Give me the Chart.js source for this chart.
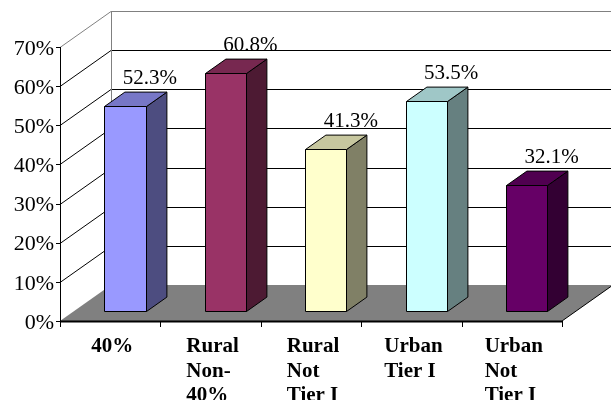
<!DOCTYPE html>
<html>
<head>
<meta charset="utf-8">
<script src="https://cdn.jsdelivr.net/npm/chart.js@4/dist/chart.umd.min.js"></script>
<style>
  html, body { margin: 0; padding: 0; background: #fff; }
  #wrap { width: 611px; height: 400px; }
</style>
</head>
<body>
<div id="wrap"><canvas id="grafico" width="611" height="400"></canvas></div>
<script>
// dados
const categorias = [["40%"], ["Rural", "Non-", "40%"], ["Rural", "Not", "Tier I"], ["Urban", "Tier I"], ["Urban", "Not", "Tier I"]];
const valores = [52.3, 60.8, 41.3, 53.5, 32.1];
const rotulos = ["52.3%", "60.8%", "41.3%", "53.5%", "32.1%"];
const ticksY = [0, 10, 20, 30, 40, 50, 60, 70];

// cores das barras (frente)
const cores = ["#9999FF", "#993366", "#FFFFCC", "#CCFFFF", "#660066"];

const fonte = '"Liberation Serif", "Times New Roman", serif';
// profundidade do "3D"
const PROF = { x: 51, y: -36 };
const FRENTE = 0.29, FUNDO = 0.69;

function escurecer(hex, f){
    const n = parseInt(hex.slice(1), 16);
    const r = Math.round(((n >> 16) & 255) * f);
    const g = Math.round(((n >> 8) & 255) * f);
    const b = Math.round((n & 255) * f);
    return `rgb(${r},${g},${b})`;
}

function linha(ctx, x1, y1, x2, y2, cor, lw){
    ctx.beginPath();
    ctx.strokeStyle = cor;
    ctx.lineWidth = lw || 1;
    ctx.moveTo(x1, y1);
    ctx.lineTo(x2, y2);
    ctx.stroke();
}

// paredes, chão, eixos e rótulos
const fundo3d = {
    id: "fundo3d",
    beforeDatasetsDraw(chart){
        const ctx = chart.ctx;
        const a = chart.chartArea;
        const ys = chart.scales.y, xs = chart.scales.x;
        ctx.save();

        // grade no fundo e na parede lateral
        ticksY.forEach(v => {
            const y = Math.round(ys.getPixelForValue(v)) + 0.5;
            const cor = v === ticksY[ticksY.length-1] ? "#808080" : "#000";
            if(v > 0){
                linha(ctx, a.left + PROF.x, y + PROF.y, a.right + PROF.x + 5, y + PROF.y, cor);
                linha(ctx, a.left, y, a.left + PROF.x, y + PROF.y, cor);
            }
        });
        linha(ctx, a.left + PROF.x + 0.5, a.top + PROF.y, a.left + PROF.x + 0.5, a.bottom + PROF.y, "#808080");

        // chão
        ctx.beginPath();
        ctx.moveTo(a.left, a.bottom);
        ctx.lineTo(a.right, a.bottom);
        ctx.lineTo(a.right + PROF.x, a.bottom + PROF.y);
        ctx.lineTo(a.left + PROF.x, a.bottom + PROF.y);
        ctx.closePath();
        ctx.fillStyle = "#808080";
        ctx.fill();
        linha(ctx, a.right, a.bottom, a.right + PROF.x, a.bottom + PROF.y, "#000");

        // eixos
        linha(ctx, a.left + 0.5, a.top, a.left + 0.5, a.bottom, "#000");
        linha(ctx, a.left, a.bottom + 0.5, a.right, a.bottom + 0.5, "#000", 2);
        ticksY.forEach(v => {
            const y = Math.round(ys.getPixelForValue(v)) + 0.5;
            linha(ctx, a.left - 4, y, a.left, y, "#000");
        });
        for(let i = 0; i <= categorias.length; i++){
            const x = Math.round(a.left + (a.right - a.left) * i / categorias.length) + 0.5;
            linha(ctx, x, a.bottom, x, a.bottom + 6, "#000");
        }

        // rótulos do eixo Y
        ctx.fillStyle = "#000";
        ctx.font = "22px " + fonte;
        ctx.textAlign = "right";
        ctx.textBaseline = "middle";
        ticksY.forEach(v => {
            ctx.fillText(v + "%", a.left - 6, ys.getPixelForValue(v) + 2);
        });

        // rótulos do eixo X (bloco centrado, linhas à esquerda)
        ctx.font = "bold 21px " + fonte;
        ctx.textAlign = "left";
        ctx.textBaseline = "alphabetic";
        categorias.forEach((linhas, i) => {
            const cx = xs.getPixelForValue(i);
            const larg = Math.max(...linhas.map(t => ctx.measureText(t).width));
            linhas.forEach((t, k) => {
                ctx.fillText(t, cx - larg/2 + 2, a.bottom + 31 + k*24.5);
            });
        });
        ctx.restore();
    },
    afterDatasetsDraw(chart){
        const ctx = chart.ctx;
        const meta = chart.getDatasetMeta(0);
        ctx.save();
        ctx.lineWidth = 1;
        ctx.strokeStyle = "#000";
        ctx.lineJoin = "miter";
        meta.data.forEach((bar, i) => {
            const w = bar.width;
            const fx = PROF.x * FRENTE, fy = PROF.y * FRENTE;
            const dx = PROF.x * (FUNDO - FRENTE), dy = PROF.y * (FUNDO - FRENTE);
            const x0 = Math.round(bar.x - w/2 + fx) + 0.5;
            const x1 = Math.round(bar.x + w/2 + fx) + 0.5;
            const y0 = Math.round(bar.y + fy) + 0.5;
            const y1 = Math.round(bar.base + fy) + 0.5;

            // lado
            ctx.beginPath();
            ctx.moveTo(x1, y0); ctx.lineTo(x1 + dx, y0 + dy);
            ctx.lineTo(x1 + dx, y1 + dy); ctx.lineTo(x1, y1);
            ctx.closePath();
            ctx.fillStyle = escurecer(cores[i], 0.5);
            ctx.fill(); ctx.stroke();

            // topo
            ctx.beginPath();
            ctx.moveTo(x0, y0); ctx.lineTo(x0 + dx, y0 + dy);
            ctx.lineTo(x1 + dx, y0 + dy); ctx.lineTo(x1, y0);
            ctx.closePath();
            ctx.fillStyle = escurecer(cores[i], 0.78);
            ctx.fill(); ctx.stroke();

            // frente
            ctx.beginPath();
            ctx.rect(x0, y0, x1 - x0, y1 - y0);
            ctx.fillStyle = cores[i];
            ctx.fill(); ctx.stroke();

            // rótulo do valor
            ctx.fillStyle = "#000";
            ctx.font = "21px " + fonte;
            ctx.textAlign = "center";
            ctx.textBaseline = "alphabetic";
            ctx.fillText(rotulos[i], bar.x + fx + 25, y0 + dy - 8);
        });
        ctx.restore();
    }
};

const chart = new Chart(document.getElementById("grafico").getContext("2d"), {
    type: "bar",
    data: {
        labels: categorias,
        datasets: [{
            data: valores,
            backgroundColor: "rgba(0,0,0,0)",
            borderWidth: 0,
            barPercentage: 0.41,
            categoryPercentage: 1
        }]
    },
    options: {
        responsive: false,
        animation: false,
        devicePixelRatio: 1,
        layout: { padding: { left: 60, right: 49, top: 47, bottom: 79 } },
        plugins: { legend: { display: false }, tooltip: { enabled: false } },
        scales: {
            x: { display: false, offset: true },
            y: { display: false, min: 0, max: 70, ticks: { stepSize: 10 } }
        }
    },
    plugins: [fundo3d]
});
</script>
</body>
</html>
